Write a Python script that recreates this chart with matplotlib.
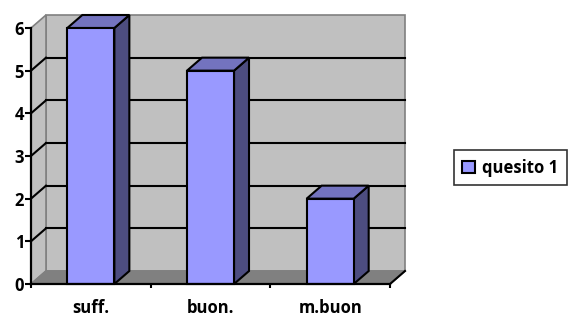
import matplotlib
matplotlib.use("Agg")
import matplotlib.pyplot as plt
from matplotlib.patches import Polygon, Patch

categories = ["suff.", "buon.", "m.buon"]
values = [6, 5, 2]
series_name = "quesito 1"
yticks = [0, 1, 2, 3, 4, 5, 6]

FRONT = "#9999FF"
TOP = "#7373BF"
SIDE = "#4D4D80"
WALL = "#C0C0C0"
FLOOR = "#808080"
EDGE = "#808080"

W, H = 572, 316
fig = plt.figure(figsize=(W / 100, H / 100), dpi=100)
ax = fig.add_axes([31 / W, (H - 284) / H, (390 - 31) / W, (284 - 28) / H])
n = len(categories)
ymax = max(yticks)
ax.set_xlim(0, n)
ax.set_ylim(0, ymax)
ax.patch.set_visible(False)

# depth offsets in data units (15 px right, 13 px up)
DX = 15 / ((390 - 31) / n)
DY = 13 / ((284 - 28) / ymax)

def poly(pts, fc, ec, lw, z):
    p = Polygon(pts, closed=True, facecolor=fc, edgecolor=ec, linewidth=lw,
                zorder=z, clip_on=False, joinstyle="miter")
    ax.add_patch(p)

# back wall
poly([(DX, DY), (n + DX, DY), (n + DX, ymax + DY), (DX, ymax + DY)], WALL, EDGE, 1.2, 1)
# left wall
poly([(0, 0), (DX, DY), (DX, ymax + DY), (0, ymax)], WALL, EDGE, 1.2, 1)
# floor
poly([(0, 0), (n, 0), (n + DX, DY), (DX, DY)], FLOOR, EDGE, 1.2, 1.5)
ax.plot([n, n + DX], [0, DY], color="black", lw=1.5, zorder=1.6, clip_on=False)

# gridlines on walls
for v in yticks[1:-1]:
    ax.plot([DX, n + DX], [v + DY, v + DY], color="black", lw=1.5, zorder=2, clip_on=False)
    ax.plot([0, DX], [v, v + DY], color="black", lw=1.5, zorder=2, clip_on=False)

# bars
bw = 0.393
for i, v in enumerate(values):
    x0 = i + 0.5 - bw / 2
    x1 = i + 0.5 + bw / 2
    poly([(x1, 0), (x1 + DX, DY), (x1 + DX, v + DY), (x1, v)], SIDE, "black", 1.5, 3)
    poly([(x0, v), (x0 + DX, v + DY), (x1 + DX, v + DY), (x1, v)], TOP, "black", 1.5, 3)
    poly([(x0, 0), (x1, 0), (x1, v), (x0, v)], FRONT, "black", 1.5, 3.1)

# axes
for s in ["top", "right"]:
    ax.spines[s].set_visible(False)
for s in ["left", "bottom"]:
    ax.spines[s].set_linewidth(1.6)
    ax.spines[s].set_color("black")
    ax.spines[s].set_zorder(5)

font = dict(family=["Open Sans", "DejaVu Sans"], weight="bold", size=12)
ax.set_yticks(yticks)
ax.set_yticklabels([str(t) for t in yticks], **font)
ax.set_xticks(range(n + 1))
ax.set_xticklabels([])
ax.set_xticks([i + 0.5 for i in range(n)], minor=True)
ax.set_xticklabels(categories, minor=True, **font)
ax.tick_params(axis="y", direction="out", length=4.5, width=1.5, pad=0.5)
ax.tick_params(axis="x", which="major", direction="out", length=3, width=1.5)
ax.tick_params(axis="x", which="minor", length=0, pad=11)

leg = fig.legend(handles=[Patch(facecolor=FRONT, edgecolor="black", linewidth=1.5, label=series_name)],
                 loc="center left", bbox_to_anchor=(454 / W, 1 - 167.5 / H),
                 frameon=True, fancybox=False, handlelength=0.75, handleheight=0.75,
                 handletextpad=0.45, borderpad=0.5, borderaxespad=0,
                 prop=dict(family=["Open Sans", "DejaVu Sans"], weight="bold", size=12))
leg.get_frame().set_edgecolor("black")
leg.get_frame().set_linewidth(1.2)

fig.savefig("out.png", dpi=100)
